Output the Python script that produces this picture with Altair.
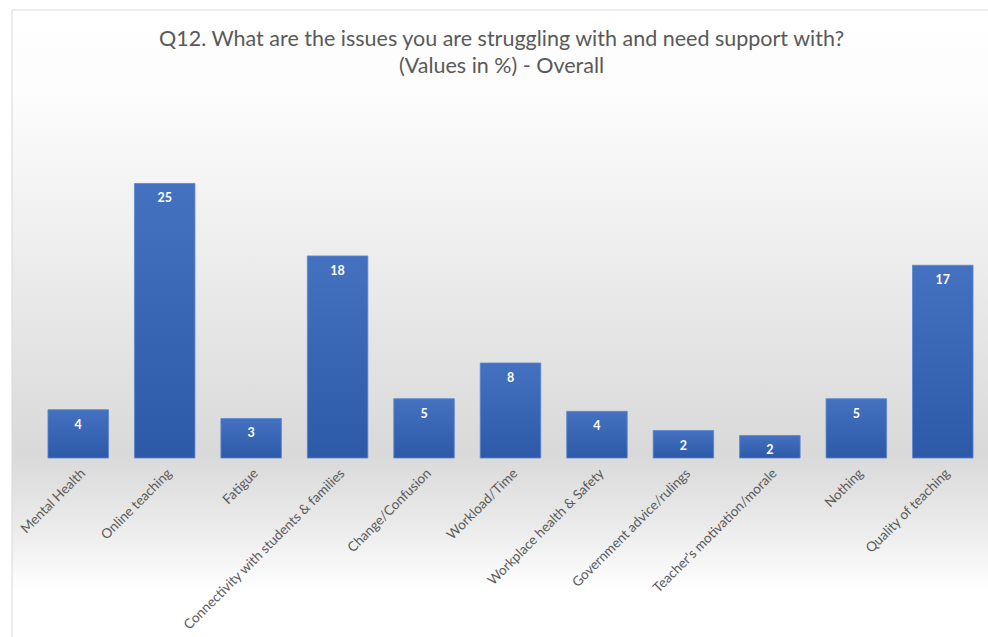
import altair as alt
import pandas as pd

categories = [
    "Mental Health", "Online teaching", "Fatigue",
    "Connectivity with students & families", "Change/Confusion",
    "Workload/Time", "Workplace health & Safety", "Government advice/rulings",
    "Teacher's motivation/morale", "Nothing", "Quality of teaching",
]
values = [4.4, 25.0, 3.6, 18.4, 5.4, 8.65, 4.25, 2.5, 2.05, 5.4, 17.55]

df = pd.DataFrame({"issue": categories, "value": values})

W, H = 951, 358

bg = alt.Chart(pd.DataFrame({"a": [0]})).mark_rect(
    stroke="#d9d9d9", strokeWidth=1,
    fill=alt.Gradient(
        gradient="linear", x1=0, x2=0, y1=0, y2=1,
        stops=[
            alt.GradientStop(offset=0.0, color="#ffffff"),
            alt.GradientStop(offset=0.14, color="#fcfcfc"),
            alt.GradientStop(offset=0.45, color="#e9e9e9"),
            alt.GradientStop(offset=0.7, color="#d9d9d9"),
            alt.GradientStop(offset=0.8, color="#e8e8e8"),
            alt.GradientStop(offset=0.92, color="#ffffff"),
            alt.GradientStop(offset=1.0, color="#ffffff"),
        ],
    ),
).encode(
    x=alt.value(-23), x2=alt.value(W + 10),
    y=alt.value(-90), y2=alt.value(H + 185),
)

x_enc = alt.X(
    "issue:N", sort=categories, title=None,
    scale=alt.Scale(paddingInner=0.3, paddingOuter=0.15),
    axis=alt.Axis(
        labelAngle=-45, labelFont="Lato", labelFontSize=13.5,
        labelColor="#595959", ticks=False, domain=False,
        labelPadding=8, labelLimit=400, zindex=1,
    ),
)
y_enc = alt.Y("value:Q", axis=None, scale=alt.Scale(domain=[0, 32.6], nice=False))

bars = alt.Chart(df).mark_bar(
    stroke="#5b85cf", strokeWidth=0.8,
    fill=alt.Gradient(
        gradient="linear", x1=0, x2=0, y1=0, y2=1,
        stops=[
            alt.GradientStop(offset=0.0, color="#4472c0"),
            alt.GradientStop(offset=1.0, color="#2d5aa8"),
        ],
    ),
).encode(x=x_enc, y=y_enc)

labels = alt.Chart(df).transform_calculate(
    label="floor(datum.value)"
).mark_text(
    color="white", font="Lato", fontWeight="bold", fontSize=12.5,
    baseline="middle", dy=15,
).encode(x=alt.X("issue:N", sort=categories), y=y_enc, text="label:N")

chart = alt.layer(bg, bars, labels).properties(
    width=W, height=H,
    title=alt.Title(
        text=["Q12. What are the issues you are struggling with and need support with?",
              "(Values in %) - Overall"],
        font="Lato", fontSize=21.5, fontWeight="normal", color="#595959",
        anchor="middle", lineHeight=27, offset=0, dy=68, dx=-9, zindex=1,
    ),
    autosize=alt.AutoSizeParams(type="none"),
    padding={"left": 35, "top": 100, "right": 2, "bottom": 179},
).configure_view(stroke=None).configure(background="white")

chart.save("out.html", embed_options={"renderer": "svg", "actions": False})
